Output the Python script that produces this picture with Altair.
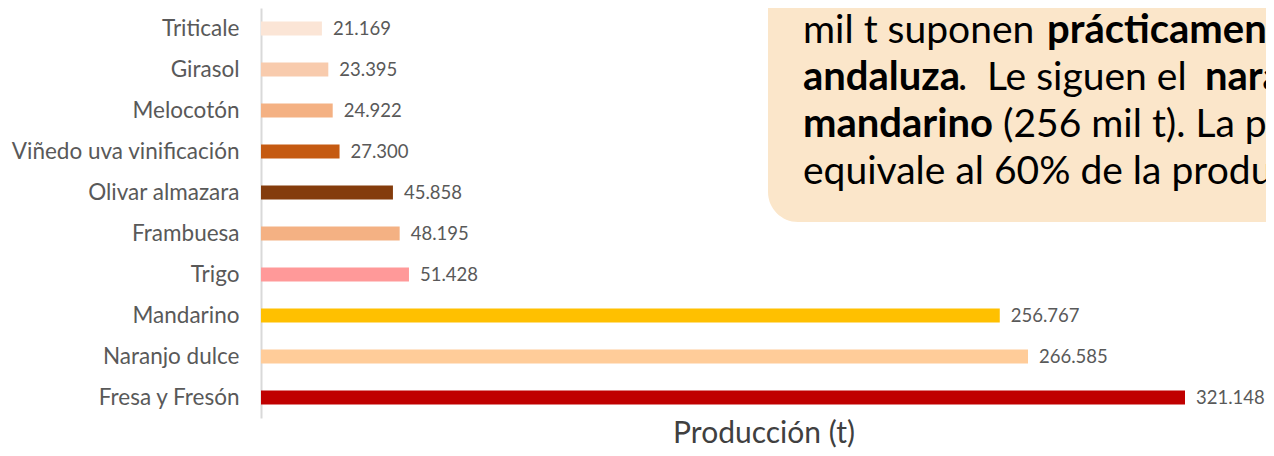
import altair as alt
import pandas as pd

categories = ["Triticale", "Girasol", "Melocotón", "Viñedo uva vinificación",
              "Olivar almazara", "Frambuesa", "Trigo", "Mandarino",
              "Naranjo dulce", "Fresa y Fresón"]
values = [21169, 23395, 24922, 27300, 45858, 48195, 51428, 256767, 266585, 321148]
bar_colors = ["#FBE5D6", "#F8CBAD", "#F4B183", "#C55A11", "#843C0C",
              "#F4B183", "#FF9999", "#FFC000", "#FFCC99", "#C00000"]
value_labels = [f"{v:,}".replace(",", ".") for v in values]

# callout text segments: line index, x start (px), text, weight
seg_line = [0, 0, 1, 1, 1, 1, 2, 2, 3]
seg_x = [542, 786, 542, 697, 726, 944, 542, 742, 542]
seg_text = ["mil t suponen", "prácticamente toda la producción",
            "andaluza", ".", "Le siguen el", "naranjo dulce",
            "mandarino", "(256 mil t). La producción",
            "equivale al 60% de la producción"]
seg_weight = ["normal", "bold", "bold", "normal", "normal", "bold",
              "bold", "normal", "normal"]
line_base = [35, 82, 129, 176]

df = pd.DataFrame({"cat": categories, "val": values, "color": bar_colors,
                   "label": value_labels})
seg = pd.DataFrame({"px": seg_x, "py": [line_base[i] for i in seg_line],
                    "txt": seg_text, "w": seg_weight})

W, H = 1005, 410
FONT = "Lato"

xscale = alt.Scale(domain=[0, 349300], nice=False, zero=True)
yscale = alt.Scale(domain=categories, paddingInner=0.66, paddingOuter=0.33)

box = alt.Chart(pd.DataFrame({"a": [0]})).mark_rect(
    color="#FBE6CA", cornerRadius=30
).encode(x=alt.value(507), x2=alt.value(1100), y=alt.value(-60), y2=alt.value(214))

bars = alt.Chart(df).mark_bar(size=14).encode(
    x=alt.X("val:Q", scale=xscale,
            axis=alt.Axis(title="Producción (t)", labels=False, ticks=False,
                          domain=False, grid=False, titleFontSize=30,
                          titleFont=FONT, titleFontWeight="normal",
                          titleColor="#404040", titlePadding=0)),
    y=alt.Y("cat:N", sort=categories, scale=yscale,
            axis=alt.Axis(title=None, ticks=False, domain=True,
                          domainColor="#D9D9D9", domainWidth=2,
                          labelFont=FONT, labelFontSize=22.5, labelLimit=400,
                          labelColor="#595959", labelPadding=22)),
    color=alt.Color("color:N", scale=None),
)

labels = alt.Chart(df).mark_text(
    align="left", baseline="middle", dx=11, font=FONT, fontSize=18.5,
    color="#595959"
).encode(
    x=alt.X("val:Q", scale=xscale),
    y=alt.Y("cat:N", sort=categories, scale=yscale),
    text="label:N",
)

txt_normal = alt.Chart(seg).transform_filter(alt.datum.w == "normal").mark_text(
    align="left", baseline="alphabetic", font=FONT, fontSize=39, color="#000000"
).encode(x=alt.X("px:Q", scale=None), y=alt.Y("py:Q", scale=None), text="txt:N")

txt_bold = alt.Chart(seg).transform_filter(alt.datum.w == "bold").mark_text(
    align="left", baseline="alphabetic", font=FONT, fontSize=40, fontWeight="bold",
    color="#000000"
).encode(x=alt.X("px:Q", scale=None), y=alt.Y("py:Q", scale=None), text="txt:N")

chart = alt.layer(box, bars, labels, txt_normal, txt_bold).properties(
    width=W, height=H,
    autosize=alt.AutoSizeParams(type="none"),
    padding={"left": 253, "top": 0, "right": 0, "bottom": 30},
).configure_view(stroke=None)

chart.save("out.html", embed_options={"renderer": "svg", "actions": False})
